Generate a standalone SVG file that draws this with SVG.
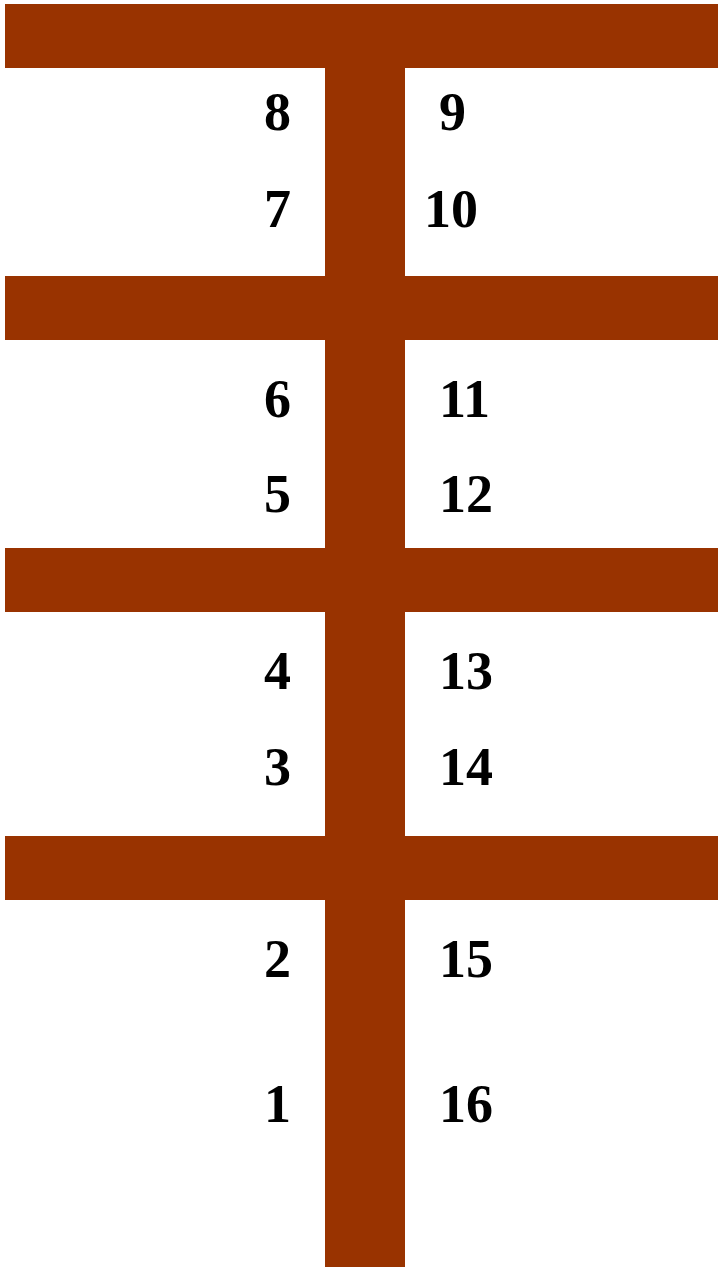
<svg xmlns="http://www.w3.org/2000/svg" width="718" height="1267" viewBox="0 0 718 1267">
<style>
.bar{fill:#993300}
.lbl{font-family:"Liberation Serif","Times New Roman",serif;font-weight:bold;font-size:54px;fill:#000}
</style>
<rect width="718" height="1267" fill="#fff"/>
<g id="structure">
<rect class="bar" x="325" y="4" width="80" height="1263"/>
<rect class="bar" x="5" y="4" width="713" height="64"/>
<rect class="bar" x="5" y="276" width="713" height="64"/>
<rect class="bar" x="5" y="548" width="713" height="64"/>
<rect class="bar" x="5" y="836" width="713" height="64"/>
</g>
<g id="labels">
<text class="lbl" x="264" y="130">8</text>
<text class="lbl" x="264" y="227">7</text>
<text class="lbl" x="264" y="417">6</text>
<text class="lbl" x="264" y="512">5</text>
<text class="lbl" x="264" y="689">4</text>
<text class="lbl" x="264" y="785">3</text>
<text class="lbl" x="264" y="977">2</text>
<text class="lbl" x="264" y="1122">1</text>
<text class="lbl" x="439" y="130">9</text>
<text class="lbl" x="424" y="227">10</text>
<text class="lbl" x="439" y="417">11</text>
<text class="lbl" x="439" y="512">12</text>
<text class="lbl" x="439" y="689">13</text>
<text class="lbl" x="439" y="785">14</text>
<text class="lbl" x="439" y="977">15</text>
<text class="lbl" x="439" y="1122">16</text>
</g>
</svg>
